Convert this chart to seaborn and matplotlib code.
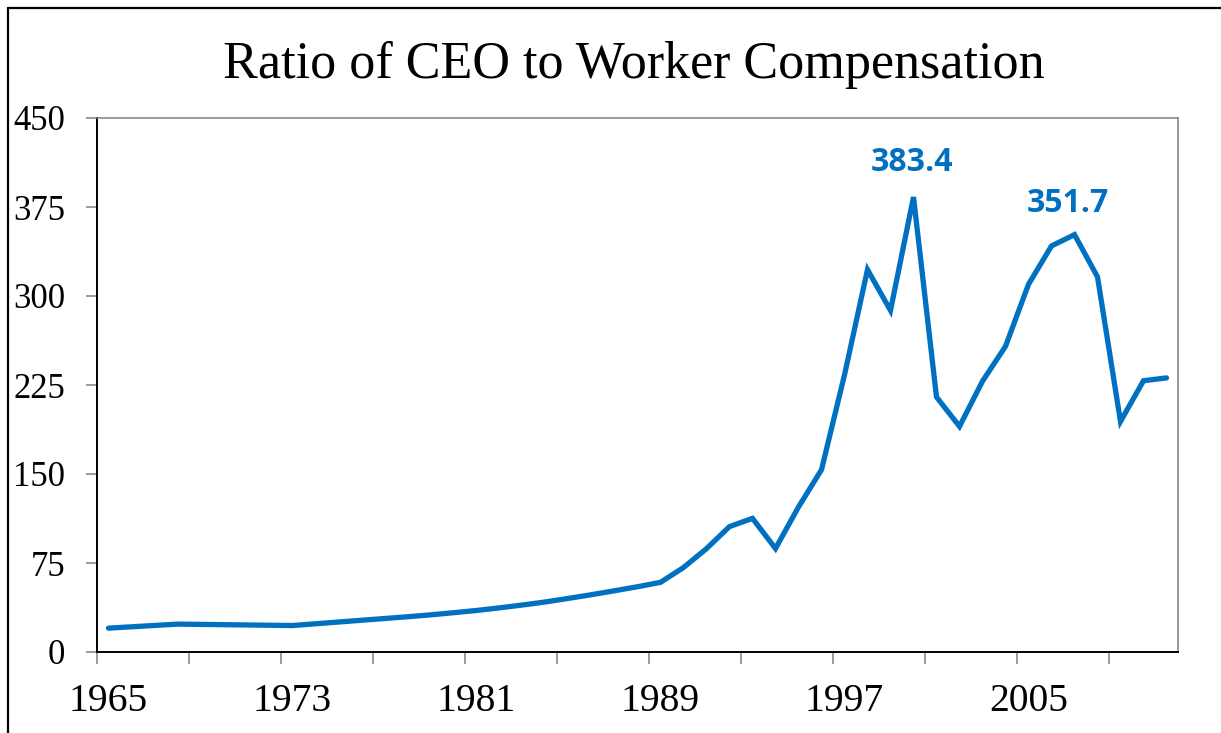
import numpy as np
import pandas as pd
import matplotlib
matplotlib.use("Agg")
import matplotlib.pyplot as plt
from matplotlib.lines import Line2D
import seaborn as sns

# ---- data ----
years = [1965, 1968, 1973, 1978, 1979, 1980, 1981, 1982, 1983, 1984, 1985, 1986, 1987, 1988,
         1989, 1990, 1991, 1992, 1993, 1994, 1995, 1996, 1997, 1998, 1999, 2000,
         2001, 2002, 2003, 2004, 2005, 2006, 2007, 2008, 2009, 2010, 2011]
ratio = [20.1, 23.5, 22.3, 29.7, 31.3, 33.1, 35.0, 37.2, 39.6, 42.2, 45.2, 48.3, 51.6, 55.0,
         58.7, 71.2, 87.1, 105.7, 112.6, 87.2, 122.2, 153.6, 233.5, 322.2, 287.8, 383.4,
         214.9, 190.1, 228.2, 257.6, 309.8, 342.2, 351.7, 316.1, 194.3, 228.6, 231.0]
label_years = [1965, 1973, 1981, 1989, 1997, 2005]
y_ticks = [0, 75, 150, 225, 300, 375, 450]
annot_years = [2000, 2007]
title = "Ratio of CEO to Worker Compensation"

first_year, last_year = 1965, 2011
n_cat = last_year - first_year + 1

df = pd.DataFrame({"pos": [y - first_year + 0.5 for y in years], "ratio": ratio})

sns.set_theme(style="white")
plt.rcParams["font.family"] = ["Liberation Serif", "DejaVu Serif"]

W, H = 1221, 733
fig = plt.figure(figsize=(W / 100, H / 100), dpi=100)
ax = fig.add_axes([97 / W, 1 - 652 / H, (1178 - 97) / W, (652 - 118) / H])

blue = "#0070C0"
sns.lineplot(data=df, x="pos", y="ratio", ax=ax, color=blue, linewidth=3.8,
             solid_joinstyle="miter", solid_capstyle="round")

ax.set_xlim(0, n_cat)
ax.set_ylim(0, 450)
ax.set_xlabel("")
ax.set_ylabel("")

# x: ticks at category boundaries, labels at category centres
ax.set_xticks(np.arange(0, n_cat - 2, 4))
ax.set_xticklabels([])
ax.set_xticks([y - first_year + 0.5 for y in label_years], minor=True)
ax.set_xticklabels([str(y) for y in label_years], minor=True)
ax.tick_params(axis="x", which="major", direction="out", length=8.5, width=1.1,
               color="#808080", bottom=True)
ax.tick_params(axis="x", which="minor", length=0, labelsize=28.5, pad=22,
               labelcolor="black", bottom=True)

ax.set_yticks(y_ticks)
ax.set_yticklabels([str(v) for v in y_ticks])
ax.tick_params(axis="y", direction="out", length=8, width=1.1, color="#808080",
               labelsize=25, pad=15, labelcolor="black", left=True)

for s in ["left", "bottom"]:
    ax.spines[s].set_color("black")
    ax.spines[s].set_linewidth(1.4)
for s in ["top", "right"]:
    ax.spines[s].set_color("#808080")
    ax.spines[s].set_linewidth(1.1)
ax.grid(False)

# annotations
offsets = {2000: (-2, 35), 2007: (-7, 31)}
for yr in annot_years:
    v = ratio[years.index(yr)]
    ax.annotate(f"{v:.1f}", xy=(yr - first_year + 0.5, v), xytext=offsets[yr],
                textcoords="offset pixels", ha="center", va="center",
                fontsize=23, fontweight="bold", color=blue,
                family=["Open Sans", "DejaVu Sans"])

fig.text(634 / W, 1 - 78 / H, title, ha="center", va="baseline", fontsize=37.5,
         color="black")

# outer frame (left and top edges visible)
fig.add_artist(Line2D([8 / W, 8 / W], [-0.01, 1 - 8 / H], transform=fig.transFigure,
                      color="black", linewidth=1.6))
fig.add_artist(Line2D([8 / W, 1.01], [1 - 8 / H, 1 - 8 / H], transform=fig.transFigure,
                      color="black", linewidth=1.6))

fig.savefig("out.png", dpi=100)
